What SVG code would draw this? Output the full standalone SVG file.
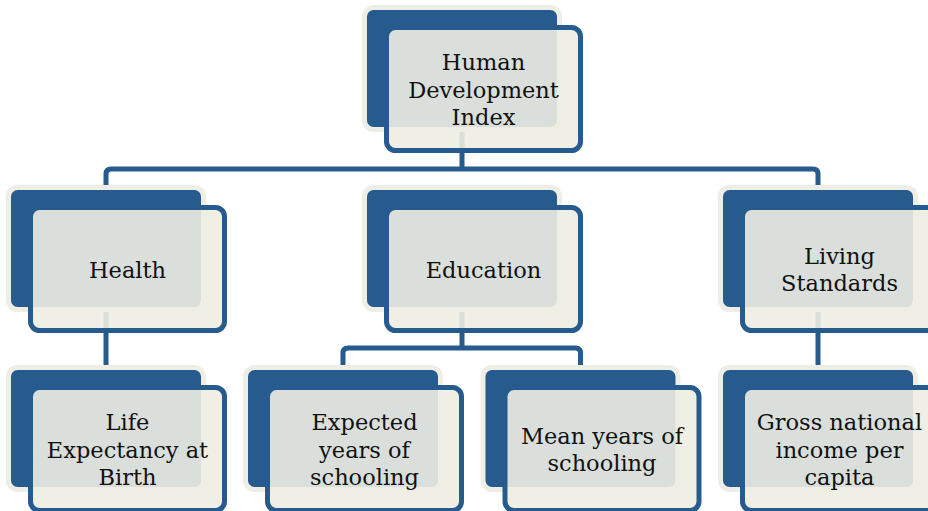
<svg xmlns="http://www.w3.org/2000/svg" width="928" height="511" viewBox="0 0 928 511">
<style>
.back{fill:#275b8e;stroke:#efeee6;stroke-width:5}
.front{fill:#eeede3;fill-opacity:0.9;stroke:#275b8e;stroke-width:5}
.lbl{font-family:"DejaVu Serif","Liberation Serif",serif;font-size:22.5px;fill:#111;text-anchor:middle}
.conn{fill:none;stroke:#275b8e;stroke-width:5}
</style>
<rect width="928" height="511" fill="#ffffff"/>
<g id="connectors">
<path class="conn" d="M462,130 V169"/>
<path class="conn" d="M106,190 V174 Q106,169 111,169 H813 Q818,169 818,174 V190"/>
<path class="conn" d="M462,310 V348"/>
<path class="conn" d="M343,370 V353 Q343,348 348,348 H575.5 Q580.5,348 580.5,353 V370"/>
<path class="conn" d="M106,310 V370"/>
<path class="conn" d="M818,310 V370"/>
</g>
<g id="hdi" transform="translate(364.5,7.5)">
<rect class="back" width="195" height="122" rx="9"/>
<rect class="front" x="22" y="20" width="194" height="123" rx="9"/>
<text class="lbl" x="119"><tspan x="119" y="62.5">Human</tspan><tspan x="119" y="90">Development</tspan><tspan x="119" y="117.5">Index</tspan></text>
</g>
<g id="health" transform="translate(8.5,187.5)">
<rect class="back" width="195" height="122" rx="9"/>
<rect class="front" x="22" y="20" width="194" height="123" rx="9"/>
<text class="lbl" x="119" y="90">Health</text>
</g>
<g id="education" transform="translate(364.5,187.5)">
<rect class="back" width="195" height="122" rx="9"/>
<rect class="front" x="22" y="20" width="194" height="123" rx="9"/>
<text class="lbl" x="119" y="90">Education</text>
</g>
<g id="living" transform="translate(720.5,187.5)">
<rect class="back" width="195" height="122" rx="9"/>
<rect class="front" x="22" y="20" width="194" height="123" rx="9"/>
<text class="lbl"><tspan x="119" y="76">Living</tspan><tspan x="119" y="103">Standards</tspan></text>
</g>
<g id="life" transform="translate(8.5,367.5)">
<rect class="back" width="195" height="122" rx="9"/>
<rect class="front" x="22" y="20" width="194" height="123" rx="9"/>
<text class="lbl"><tspan x="119" y="62.5">Life</tspan><tspan x="119" y="90">Expectancy at</tspan><tspan x="119" y="117.5">Birth</tspan></text>
</g>
<g id="expected" transform="translate(245.5,367.5)">
<rect class="back" width="195" height="122" rx="9"/>
<rect class="front" x="22" y="20" width="194" height="123" rx="9"/>
<text class="lbl"><tspan x="119" y="62.5">Expected</tspan><tspan x="119" y="90">years of</tspan><tspan x="119" y="117.5">schooling</tspan></text>
</g>
<g id="mean" transform="translate(483,367.5)">
<rect class="back" width="195" height="122" rx="9"/>
<rect class="front" x="22" y="20" width="194" height="123" rx="9"/>
<text class="lbl"><tspan x="119" y="76">Mean years of</tspan><tspan x="119" y="103">schooling</tspan></text>
</g>
<g id="gross" transform="translate(720.5,367.5)">
<rect class="back" width="195" height="122" rx="9"/>
<rect class="front" x="22" y="20" width="194" height="123" rx="9"/>
<text class="lbl"><tspan x="119" y="62.5">Gross national</tspan><tspan x="119" y="90">income per</tspan><tspan x="119" y="117.5">capita</tspan></text>
</g>
</svg>
